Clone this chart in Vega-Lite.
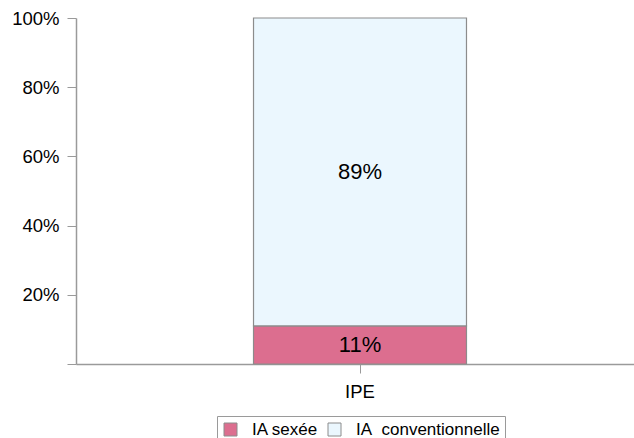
{
  "$schema": "https://vega.github.io/schema/vega-lite/v6.json",
  "width": 558,
  "height": 346,
  "autosize": {"type": "none"},
  "padding": {"left": 76, "top": 18, "right": 0, "bottom": 74},
  "background": "white",
  "config": {
    "view": {"stroke": null},
    "font": "Liberation Sans",
    "axis": {"grid": false, "domainColor": "#9a9a9a", "tickColor": "#9a9a9a", "labelColor": "#000000", "labelFont": "Liberation Sans", "labelFontSize": 18.5, "title": null}
  },
  "data": {
    "values": [
      {"cat": "IPE", "type": "IA sexée", "value": 11, "ord": 1},
      {"cat": "IPE", "type": "IA\u00a0 conventionnelle", "value": 89, "ord": 2}
    ]
  },
  "transform": [
    {"stack": "value", "groupby": ["cat"], "sort": [{"field": "ord"}], "as": ["y0", "y1"]},
    {"calculate": "(datum.y0 + datum.y1) / 2", "as": "ymid"},
    {"calculate": "datum.value + '%'", "as": "label"}
  ],
  "encoding": {
    "x": {
      "field": "cat", "type": "nominal",
      "scale": {"paddingInner": 0, "paddingOuter": 0.81, "align": 0.5145},
      "axis": {"labelAngle": 0, "tickSize": 9, "labelPadding": 9, "domainWidth": 1.5}
    }
  },
  "layer": [
    {
      "mark": {"type": "bar", "stroke": "#8c8c8c", "strokeWidth": 1.2},
      "encoding": {
        "y": {"field": "y0", "type": "quantitative", "scale": {"domain": [0, 100]},
          "axis": {"values": [0, 20, 40, 60, 80, 100], "labelExpr": "datum.value == 0 ? '' : datum.value + '%'", "tickSize": 9, "labelPadding": 8, "domainWidth": 1.5}},
        "y2": {"field": "y1"},
        "color": {
          "field": "type", "type": "nominal",
          "scale": {"domain": ["IA sexée", "IA\u00a0 conventionnelle"], "range": ["#DC6E8F", "#EBF7FE"]},
          "legend": {
            "title": null, "orient": "none", "direction": "horizontal",
            "legendX": 141, "legendY": 398,
            "strokeColor": "#9a9a9a", "padding": 5,
            "symbolType": "square", "symbolSize": 169, "symbolStrokeColor": "#8c8c8c", "symbolStrokeWidth": 1,
            "labelFontSize": 17, "labelFont": "Liberation Sans", "labelColor": "#000000", "labelOffset": 13,
            "columnPadding": 7
          }
        }
      }
    },
    {
      "mark": {"type": "text", "fontSize": 22, "font": "Liberation Sans", "color": "#000000"},
      "encoding": {
        "y": {"field": "ymid", "type": "quantitative"},
        "text": {"field": "label", "type": "nominal"}
      }
    }
  ]
}
